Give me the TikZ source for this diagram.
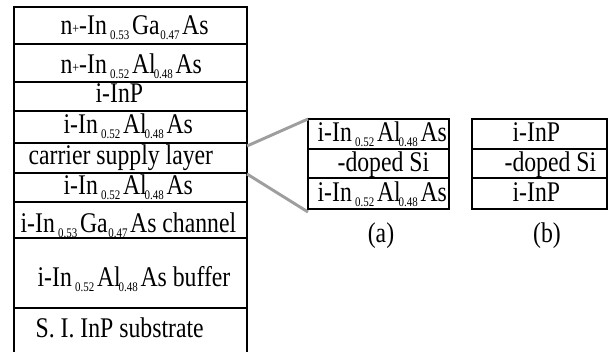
\documentclass[tikz,border=0pt]{standalone}
\usepackage{fontspec}
\setmainfont{Liberation Serif}

% small index and n+ marks used in the layer names
\newcommand{\layersub}[2][2.5pt]{\kern#1\raisebox{-2.6pt}{\fontsize{8.2}{9}\selectfont #2}\kern2pt}
\newcommand{\nplus}{n\raisebox{1.2pt}{\fontsize{9}{9}\selectfont +}}
\newcommand{\InAl}{In\layersub{0.52}Al\layersub[-1.5pt]{0.48}As}
\newcommand{\InGa}{In\layersub{0.53}Ga\layersub[0.5pt]{0.47}As}
% the lettering is a bit taller than plain Times
\newcommand{\tall}[1]{\scalebox{1}[1.2]{#1}}

\begin{document}
\begin{tikzpicture}[
 x=0.75pt, y=-0.75pt,
 line width=0.9pt,
 font=\fontsize{17.8}{20}\selectfont,
 lbl/.style={anchor=base west, inner sep=0pt},
 figlabel/.style={anchor=base, inner sep=0pt},
 zoomline/.style={draw=black!38, line width=2.2pt}
]
\clip (0,0) rectangle (610,352);

% main layer stack, bottom layer runs off the page
\draw (14,7) rectangle (247,360);
\foreach \y in {44,82,111,143,173,202,238,308}
  \draw (14,\y) -- (247,\y);

\node (cap1) [lbl] at (60,35) {\tall{\nplus-\InGa}};
\node (cap2) [lbl] at (60,74) {\tall{\nplus-\InAl}};
\node (etch) [lbl] at (95,103) {\tall{i-InP}};
\node (barrier) [lbl] at (63,134) {\tall{i-\InAl}};
\node (supply) [lbl] at (28,165) {\tall{carrier supply layer}};
\node (spacer) [lbl] at (63,195) {\tall{i-\InAl}};
\node (channel) [lbl] at (20,233) {\tall{i-\InGa{} channel}};
\node (buffer) [lbl] at (37,287) {\tall{i-\InAl{} buffer}};
\node (substrate) [lbl] at (35,338) {\tall{S. I. InP substrate}};

% (a) supply layer with InAlAs around the Si sheet
\draw (308,119) rectangle (449,209);
\draw (308,149) -- (449,149);
\draw (308,178) -- (449,178);
\node (a-top) [lbl] at (317,142) {\tall{i-\InAl}};
\node (a-si) [lbl] at (337,172) {\tall{-doped Si}};
\node (a-bot) [lbl] at (317,202) {\tall{i-\InAl}};
\node (a-label) [figlabel] at (381,243) {\tall{(a)}};

% (b) supply layer with InP around the Si sheet
\draw (472,119) rectangle (607,209);
\draw (472,149) -- (607,149);
\draw (472,178) -- (607,178);
\node (b-top) [lbl] at (512,142) {\tall{i-InP}};
\node (b-si) [lbl] at (504,172) {\tall{-doped Si}};
\node (b-bot) [lbl] at (512,202) {\tall{i-InP}};
\node (b-label) [figlabel] at (547,243) {\tall{(b)}};

% zoom lines from the supply layer
\coordinate (sup-top) at (247,146);
\coordinate (sup-bot) at (247,174);
\coordinate (a-nw) at (308,119);
\coordinate (a-sw) at (308,212);
\draw [zoomline] (sup-top) -- (a-nw);
\draw [zoomline] (sup-bot) -- (a-sw);
\end{tikzpicture}
\end{document}
